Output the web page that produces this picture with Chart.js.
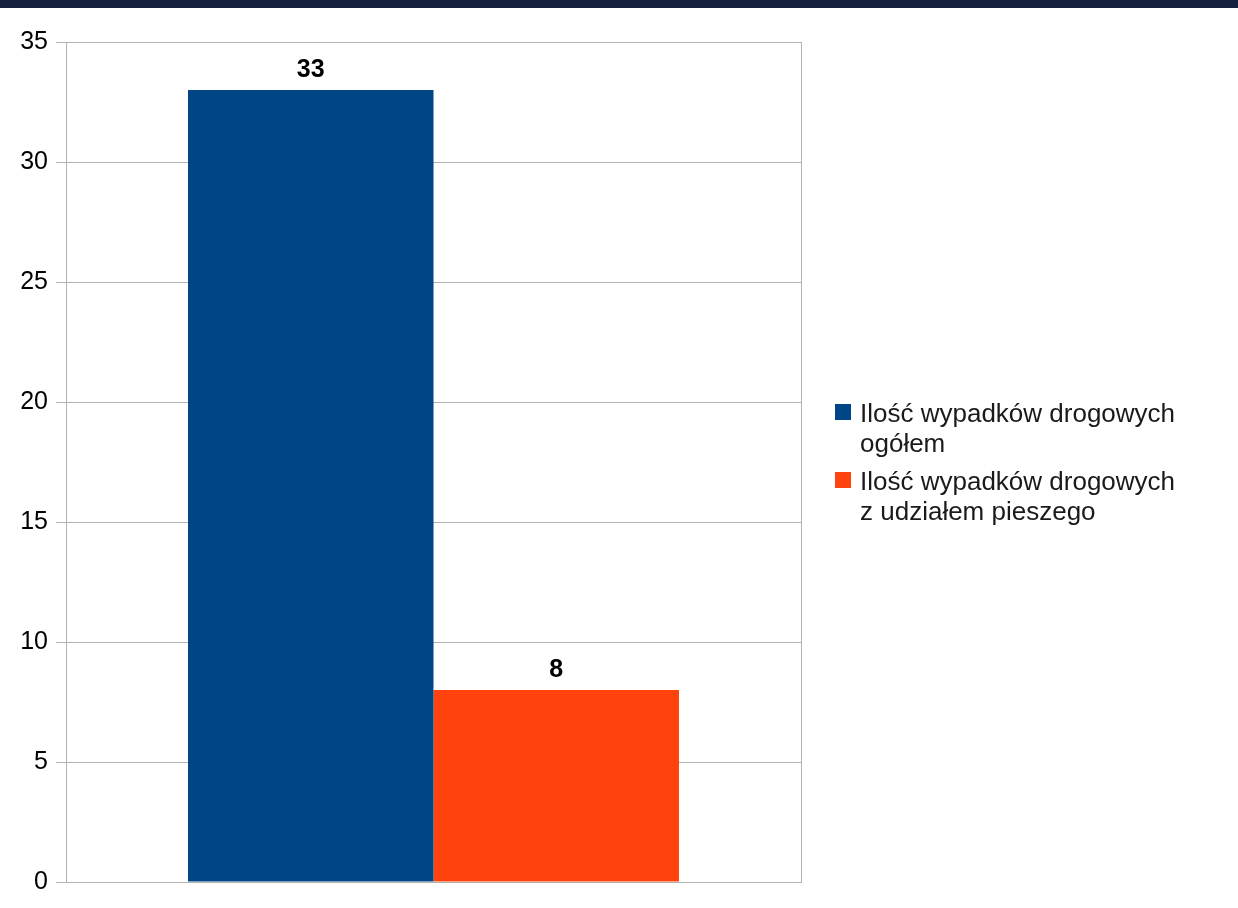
<!DOCTYPE html>
<html lang="pl">
<head>
<meta charset="utf-8">
<script src="https://cdn.jsdelivr.net/npm/chart.js@4/dist/chart.umd.min.js"></script>
<style>
  html, body { margin: 0; padding: 0; background: #fff; }
  body { width: 1238px; height: 908px; position: relative; overflow: hidden; font-family: "Liberation Sans", Arial, sans-serif; }
  .topBar { position: absolute; left: 0; top: 0; width: 1238px; height: 8px; background: #16213f; }
  #chart { position: absolute; left: 0; top: 0; }
  #legend { position: absolute; left: 835px; top: 398px; }
  .item { display: flex; align-items: flex-start; margin-bottom: 8px; }
  .box { width: 16px; height: 16px; margin-top: 6px; margin-right: 9px; flex: none; }
  .txt { font-size: 26px; line-height: 30px; color: #1a1a1a; white-space: nowrap; }
</style>
</head>
<body>
<canvas id="chart" width="1238" height="908"></canvas>
<div class="topBar"></div>
<div id="legend"></div>
<script>
// Dane wykresu
const categories = [''];
const seriesNames = [
    ['Ilość wypadków drogowych', 'ogółem'],
    ['Ilość wypadków drogowych', 'z udziałem pieszego']
];
const seriesValues = [[33], [8]];
const seriesColors = ['#004586', '#ff420e'];
const yTicks = [0, 5, 10, 15, 20, 25, 30, 35];

// Etykiety wartości nad słupkami
const valueLabels = {
    id: 'valueLabels',
    afterDatasetsDraw(chart) {
        const ctx = chart.ctx;
        ctx.save();
        ctx.font = 'bold 25px "Liberation Sans", Arial, sans-serif';
        ctx.fillStyle = '#000';
        ctx.textAlign = 'center';
        ctx.textBaseline = 'alphabetic';
        chart.data.datasets.forEach((ds, i) => {
            chart.getDatasetMeta(i).data.forEach((bar, j) => {
                ctx.fillText(String(ds.data[j]), bar.x, bar.y - 13);
            });
        });
        ctx.restore();
    }
};

const ctx = document.getElementById('chart').getContext('2d');
const chart = new Chart(ctx, {
    type: 'bar',
    data: {
        labels: categories,
        datasets: seriesNames.map((name, i) => ({
            label: name,
            data: seriesValues[i],
            backgroundColor: seriesColors[i],
            borderWidth: 0,
            categoryPercentage: 0.668,
            barPercentage: 1
        }))
    },
    options: {
        responsive: false,
        animation: false,
        devicePixelRatio: 1,
        layout: { padding: { top: 42, right: 437, bottom: 26, left: 0 } },
        plugins: { legend: { display: false }, tooltip: { enabled: false } },
        scales: {
            x: {
                grid: { color: '#b3b3b3', drawTicks: false },
                border: { display: true, color: '#b3b3b3' },
                ticks: { display: false },
                afterFit(scale) { scale.height = 0; }
            },
            y: {
                min: 0,
                max: 35,
                afterBuildTicks(scale) { scale.ticks = yTicks.map(v => ({ value: v })); },
                grid: { color: '#b3b3b3', tickLength: 10 },
                border: { display: true, color: '#b3b3b3' },
                ticks: {
                    color: '#000',
                    padding: 8,
                    font: { family: '"Liberation Sans", Arial, sans-serif', size: 25 }
                },
                afterFit(scale) { scale.width = 66; }
            }
        }
    },
    plugins: [valueLabels]
});

// Legenda w HTML (tekst w dwóch liniach)
const legend = document.getElementById('legend');
seriesNames.forEach((lines, i) => {
    const item = document.createElement('div');
    item.className = 'item';
    const box = document.createElement('div');
    box.className = 'box';
    box.style.background = seriesColors[i];
    const txt = document.createElement('div');
    txt.className = 'txt';
    lines.forEach((line, k) => {
        if (k > 0) txt.appendChild(document.createElement('br'));
        txt.appendChild(document.createTextNode(line));
    });
    item.appendChild(box);
    item.appendChild(txt);
    legend.appendChild(item);
});
</script>
</body>
</html>
